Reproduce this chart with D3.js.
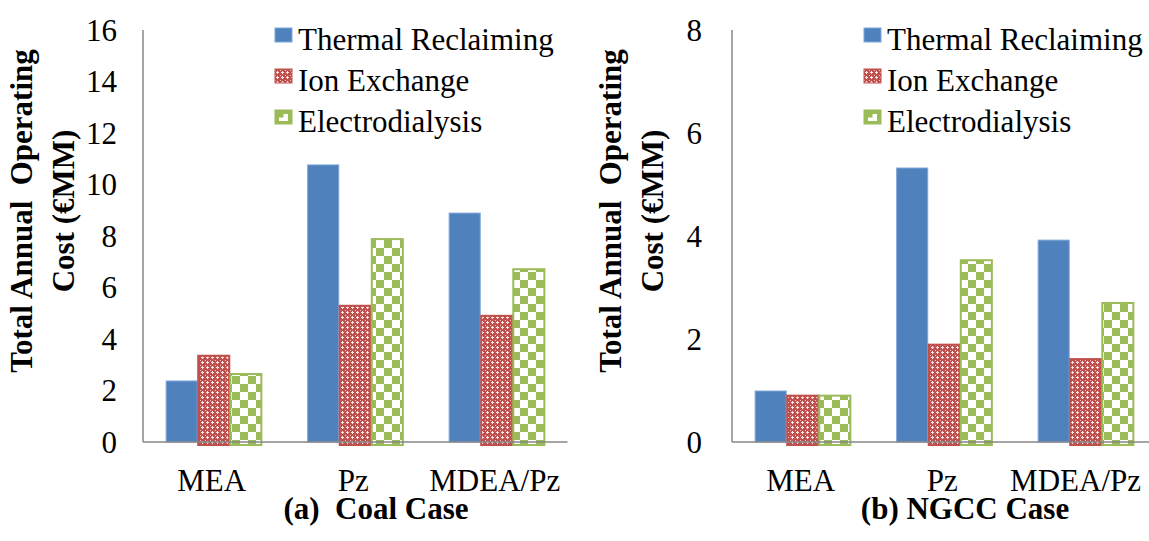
<!DOCTYPE html>
<html>
<head>
<meta charset="utf-8">
<script src="https://cdn.jsdelivr.net/npm/d3@7"></script>
<style>
  body { margin: 0; background: #fff; }
  svg text { font-family: "Liberation Serif", "Times New Roman", Times, serif; fill: #000; }
</style>
</head>
<body>
<div id="chart"></div>
<script>
var categories = ["MEA", "Pz", "MDEA/Pz"];
var seriesNames = ["Thermal Reclaiming", "Ion Exchange", "Electrodialysis"];

// (a) coal case, values per series in category order
var coalThermal = [2.37, 10.76, 8.89];
var coalIon = [3.35, 5.29, 4.90];
var coalElectro = [2.64, 7.88, 6.71];
var coalTicks = [0, 2, 4, 6, 8, 10, 12, 14, 16];

// (b) NGCC case
var ngccThermal = [0.99, 5.32, 3.92];
var ngccIon = [0.90, 1.89, 1.61];
var ngccElectro = [0.90, 3.53, 2.70];
var ngccTicks = [0, 2, 4, 6, 8];

var width = 1149,
    height = 541;

var svg = d3.select("#chart")
    .append("svg")
    .attr("width", width)
    .attr("height", height);

// fill patterns like the excel ones
var defs = svg.append("defs");

var redPat = defs.append("pattern")
    .attr("id", "ionPat")
    .attr("patternUnits", "userSpaceOnUse")
    .attr("width", 5)
    .attr("height", 5);
redPat.append("rect").attr("width", 5).attr("height", 5).attr("fill", "#C0504D");
redPat.append("rect").attr("x", 2).attr("y", 1).attr("width", 1).attr("height", 3).attr("fill", "#fbe6e6");
redPat.append("rect").attr("x", 1).attr("y", 2).attr("width", 3).attr("height", 1).attr("fill", "#fbe6e6");
redPat.append("rect").attr("x", 0).attr("y", 0).attr("width", 1).attr("height", 1).attr("fill", "#f0c4c3");

var greenPat = defs.append("pattern")
    .attr("id", "edPat")
    .attr("patternUnits", "userSpaceOnUse")
    .attr("width", 16)
    .attr("height", 16);
greenPat.append("rect").attr("width", 16).attr("height", 16).attr("fill", "#fff");
greenPat.append("rect").attr("width", 8).attr("height", 8).attr("fill", "#9BBB59");
greenPat.append("rect").attr("x", 8).attr("y", 8).attr("width", 8).attr("height", 8).attr("fill", "#9BBB59");

var fills = ["#4F81BD", "url(#ionPat)", "url(#edPat)"];
var strokes = ["#7fa6d8", "#C0504D", "#9BBB59"];

function drawPanel(dx, series, yMax, ticks, title) {
    var x0Start = 143 + dx;
    var plotW = 424.5;
    var yTop = 30, yBottom = 442;

    var g = svg.append("g");

    var x0 = d3.scaleBand()
        .domain(categories)
        .range([x0Start, x0Start + plotW])
        .paddingInner(0.32)
        .paddingOuter(0.16);

    var x1 = d3.scaleBand()
        .domain(seriesNames)
        .range([0, x0.bandwidth()]);

    var y = d3.scaleLinear()
        .domain([0, yMax])
        .range([yBottom, yTop]);

    // bars
    categories.forEach(function (c, ci) {
        series.forEach(function (s, si) {
            var v = s[ci];
            g.append("rect")
                .attr("x", x0(c) + x1(seriesNames[si]) + 0.5)
                .attr("y", y(v))
                .attr("width", x1.bandwidth() - 1)
                .attr("height", y(0) - y(v) + (si > 0 ? 3 : 0))
                .attr("fill", fills[si])
                .attr("stroke", strokes[si])
                .attr("stroke-width", si == 0 ? 1 : 2);
        });
    });

    // axes lines
    g.append("line")
        .attr("x1", x0Start).attr("x2", x0Start)
        .attr("y1", yTop).attr("y2", yBottom)
        .attr("stroke", "#868686").attr("stroke-width", 1.5);
    g.append("line")
        .attr("x1", x0Start).attr("x2", x0Start + plotW)
        .attr("y1", yBottom).attr("y2", yBottom)
        .attr("stroke", "#868686").attr("stroke-width", 1.5);

    // y tick labels
    g.selectAll(".ytick")
        .data(ticks)
        .enter().append("text")
        .attr("class", "ytick")
        .attr("x", x0Start - 26 - (dx > 0 ? 4 : 0))
        .attr("y", function (d) { return y(d); })
        .attr("dy", "0.35em")
        .attr("text-anchor", "end")
        .style("font-size", "31px")
        .text(function (d) { return d; });

    // category labels, kept inside the picture like excel does
    g.selectAll(".xlab")
        .data(categories)
        .enter().append("text")
        .attr("class", "xlab")
        .attr("y", 491)
        .attr("text-anchor", "middle")
        .style("font-size", "31px")
        .text(function (d) { return d; })
        .attr("x", function (d) {
            var cx = x0(d) + x0.bandwidth() / 2 - 2;
            var w = this.getComputedTextLength();
            return Math.min(cx, width - 8 - w / 2);
        });

    // y axis title
    var yTitle = ["Total Annual  Operating", "Cost (\u20acMM)"];
    [32, 74].forEach(function (bx, i) {
        g.append("text")
            .attr("transform", "translate(" + (bx + dx) + ",211) rotate(-90)")
            .attr("text-anchor", "middle")
            .style("font-size", "31px")
            .style("font-weight", "bold")
            .attr("xml:space", "preserve")
            .text(yTitle[i]);
    });

    // legend
    var leg = g.append("g")
        .attr("transform", "translate(" + (275 + dx) + ",0)");
    seriesNames.forEach(function (s, i) {
        var cy = 35 + i * 41;
        leg.append("rect")
            .attr("x", 0)
            .attr("y", cy - 7)
            .attr("width", 17)
            .attr("height", 14)
            .attr("fill", i == 2 ? "#9BBB59" : fills[i])
            .attr("stroke", strokes[i])
            .attr("stroke-width", 1);
        if (i == 2) {
            leg.append("rect")
                .attr("x", 4).attr("y", cy - 3)
                .attr("width", 9).attr("height", 7)
                .attr("fill", "#fff");
            leg.append("rect")
                .attr("x", 4).attr("y", cy - 3)
                .attr("width", 4.5).attr("height", 3.5)
                .attr("fill", "#9BBB59");
        }
        leg.append("text")
            .attr("x", 23)
            .attr("y", cy + 15)
            .style("font-size", "31px")
            .text(s);
    });

    // panel caption
    g.append("text")
        .attr("x", dx == 0 ? 376 : 965)
        .attr("y", 519)
        .attr("text-anchor", "middle")
        .style("font-size", "31px")
        .style("font-weight", "bold")
        .attr("xml:space", "preserve")
        .text(title);
}

drawPanel(0, [coalThermal, coalIon, coalElectro], 16, coalTicks, "(a)  Coal Case");
drawPanel(589, [ngccThermal, ngccIon, ngccElectro], 8, ngccTicks, "(b) NGCC Case");
</script>
</body>
</html>
